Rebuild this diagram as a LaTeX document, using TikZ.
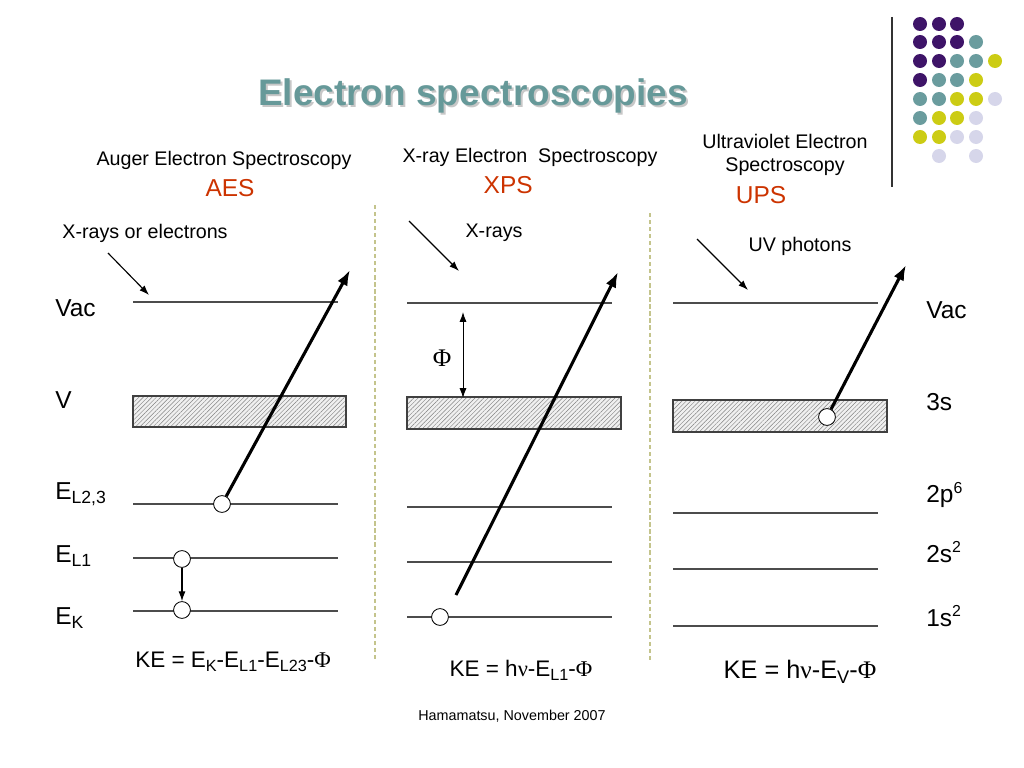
\documentclass[tikz,border=0pt]{standalone}
\usepackage{fontspec}
\setmainfont{Liberation Sans}
\newfontfamily\grk{Liberation Serif}
\usetikzlibrary{arrows.meta, patterns.meta, shapes.geometric}
\definecolor{titleteal}{RGB}{102,153,153}
\definecolor{acrored}{RGB}{204,51,0}
\definecolor{sepolive}{RGB}{196,196,140}
\definecolor{dp}{RGB}{62,20,104}
\definecolor{dt}{RGB}{106,156,158}
\definecolor{dy}{RGB}{204,204,20}
\definecolor{dl}{RGB}{214,214,234}
\newcommand\dn[1]{\raisebox{-0.35ex}{\scalebox{0.72}{#1}}}
\newcommand\up[1]{\raisebox{0.75ex}{\scalebox{0.65}{#1}}}
\newcommand\Phisym{{\grk Φ}}
\newcommand\nusym{{\grk ν}}
\tikzstyle{level} = [draw=black!70, line width=0.9pt]
\tikzstyle{band} = [draw=black!75, line width=0.8pt, preaction={fill=black!6}, pattern={Lines[angle=45,distance=2.2pt,line width=0.35pt]}, pattern color=black!50]
\tikzstyle{hole} = [circle, draw=black, fill=white, line width=0.6pt, minimum size=0.42cm, inner sep=0]
\tikzstyle{emit} = [line width=2.2pt, -{Latex[length=11pt,width=8pt]}]
\tikzstyle{beam} = [line width=0.8pt, -{Latex[length=7pt,width=5pt]}]
\tikzstyle{sep} = [draw=sepolive, line width=1pt, dash pattern=on 3pt off 2pt]
\tikzstyle{head} = [font=\fontsize{14}{17}\selectfont, align=center]
\tikzstyle{acro} = [font=\fontsize{17.4}{20}\selectfont, text=acrored]
\tikzstyle{lab} = [font=\fontsize{17.4}{20}\selectfont, anchor=west, inner sep=0]
\tikzstyle{formula} = [font=\fontsize{16}{19}\selectfont]

\begin{document}
\begin{tikzpicture}[x=0.025cm, y=-0.025cm, node distance=20pt]
	\useasboundingbox (0,0) rectangle (1024,768);

	% title
	\node (titleshadow) at (475,98) [font=\fontsize{26.3}{30}\bfseries\selectfont, text=black!22] {Electron spectroscopies};
	\node (title) at (473,96) [font=\fontsize{26.3}{30}\bfseries\selectfont, text=titleteal] {Electron spectroscopies};

	% corner dots
	\draw [black!80, line width=1pt] (892,17) -- (892,187);
	\foreach \y/\rowdots in {24/{920/dp,939/dp,957/dp}, 42/{920/dp,939/dp,957/dp,976/dt}, 61/{920/dp,939/dp,957/dt,976/dt,995/dy}, 80/{920/dp,939/dt,957/dt,976/dy}, 99/{920/dt,939/dt,957/dy,976/dy,995/dl}, 118/{920/dt,939/dy,957/dy,976/dl}, 137/{920/dy,939/dy,957/dl,976/dl}, 156/{939/dl,976/dl}}
		\foreach \x/\col in \rowdots
			\fill [\col] (\x,\y) circle (0.175cm);

	% separators
	\draw [sep] (375,205) -- (375,662);
	\draw [sep] (650,213) -- (650,660);

	% headers
	\node (aeshead) [head] at (224,160) {Auger Electron Spectroscopy};
	\node (aes) [acro, below of=aeshead, xshift=4.3] {AES};
	\node (xpshead) [head] at (530,157) {X-ray Electron\ \ Spectroscopy};
	\node (xps) [acro, below of=xpshead, xshift=-15.5] {XPS};
	\node (upshead) [head] at (785,155) {Ultraviolet Electron\\[-1pt] Spectroscopy};
	\node (ups) [acro, below of=upshead, yshift=-8.5, xshift=-17] {UPS};

	% AES
	\node (aesbeamtxt) [head] at (145,233) {X-rays or electrons};
	\coordinate (aesin) at (108,253);
	\coordinate (aesinend) at (149,295);
	\draw [beam] (aesin) -- (aesinend);
	\draw [level] (133,302) -- (338,302);
	\draw [band] (133,396) rectangle (346,427);
	\draw [level] (133,504) -- (338,504);
	\draw [level] (133,558) -- (338,558);
	\draw [level] (133,611) -- (338,611);
	\node (aesholeA) [hole] at (222,504) {};
	\node (aesholeB) [hole] at (182,559) {};
	\node (aesholeC) [hole] at (182,610) {};
	\draw [beam] (aesholeB) -- (aesholeC);
	\coordinate (aestip) at (350,270);
	\draw [emit] (aesholeA) -- (aestip);
	\node (labvac) [lab] at (55,308) {Vac};
	\node (labv) [lab] at (55,400) {V};
	\node (label23) [lab] at (55,494) {E\dn{L2,3}};
	\node (label1) [lab] at (55,556) {E\dn{L1}};
	\node (labek) [lab] at (55,618) {E\dn{K}};
	\node (aeske) [formula] at (233,662) {KE = E\dn{K}-E\dn{L1}-E\dn{L23}-\Phisym};

	% XPS
	\node (xpsbeamtxt) [head] at (494,233) {X-rays};
	\coordinate (xpsin) at (409,221);
	\coordinate (xpsinend) at (459,271);
	\draw [beam] (xpsin) -- (xpsinend);
	\draw [level] (407,303) -- (612,303);
	\draw [band] (407,397) rectangle (621,429);
	\draw [level] (407,507) -- (612,507);
	\draw [level] (407,562) -- (612,562);
	\draw [level] (407,617) -- (612,617);
	\coordinate (phitop) at (463,312);
	\coordinate (phibot) at (463,398);
	\draw [line width=0.7pt, {Latex[length=7pt,width=5pt]}-{Latex[length=7pt,width=5pt]}] (phitop) -- (phibot);
	\node (phi) [font=\fontsize{18}{20}\selectfont] at (442,358) {\Phisym};
	\node (xpshole) [hole] at (440,617) {};
	\coordinate (xpsstart) at (456,595);
	\coordinate (xpstip) at (618,272);
	\draw [emit] (xpsstart) -- (xpstip);
	\node (xpske) [formula] at (521,670) {KE = h\nusym-E\dn{L1}-\Phisym};

	% UPS
	\node (upsbeamtxt) [head] at (800,246) {UV photons};
	\coordinate (upsin) at (697,239);
	\coordinate (upsinend) at (748,290);
	\draw [beam] (upsin) -- (upsinend);
	\draw [level] (673,303) -- (878,303);
	\draw [band] (673,400) rectangle (887,432);
	\draw [level] (673,513) -- (878,513);
	\draw [level] (673,569) -- (878,569);
	\draw [level] (673,626) -- (878,626);
	\node (upshole) [hole] at (827,417) {};
	\coordinate (upstip) at (906,265);
	\draw [emit] (upshole) -- (upstip);
	\node (labvacr) [lab] at (926,310) {Vac};
	\node (lab3s) [lab] at (926,402) {3s};
	\node (lab2p) [lab] at (926,495) {2p\up{6}};
	\node (lab2s) [lab] at (926,552) {2s\up{2}};
	\node (lab1s) [lab] at (926,616) {1s\up{2}};
	\node (upske) [formula, font=\fontsize{18}{21}\selectfont] at (800,672) {KE = h\nusym-E\dn{V}-\Phisym};

	% footer
	\node (footer) [font=\fontsize{10.2}{12}\selectfont] at (512,716) {Hamamatsu, November 2007};
\end{tikzpicture}
\end{document}
